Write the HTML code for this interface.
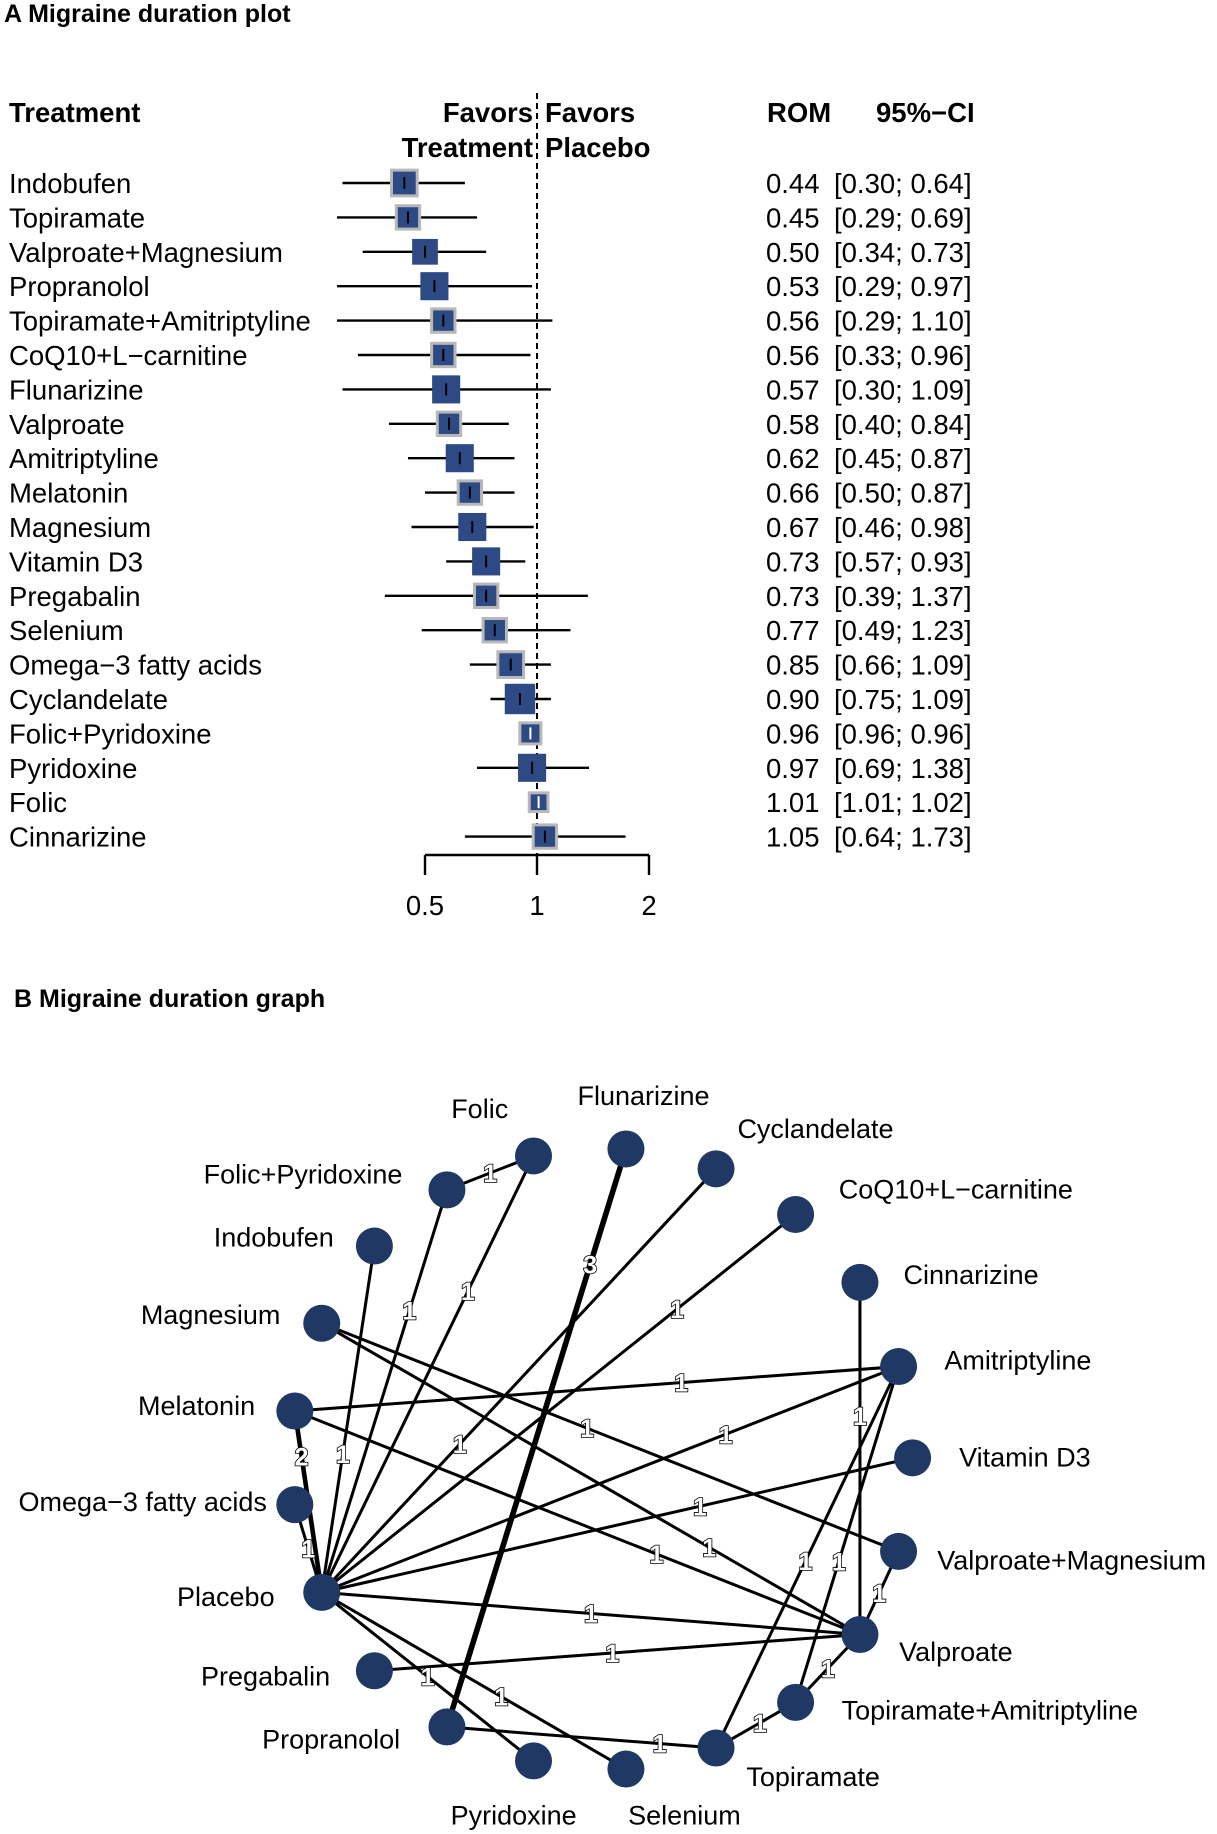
<!DOCTYPE html>
<html><head><meta charset="utf-8"><style>
body{margin:0;background:#fff}
svg{display:block;font-family:"Liberation Sans",Arial,sans-serif}
</style></head><body>
<svg id="chart" width="1217" height="1834" viewBox="0 0 1217 1834">
<text x="4" y="22" font-size="25" font-weight="bold">A Migraine duration plot</text>
<g id="forest"></g>
<text x="14" y="1007" font-size="25" font-weight="bold">B Migraine duration graph</text>
<g id="net"></g>
</svg>
<script>
const treatments=["Indobufen","Topiramate","Valproate+Magnesium","Propranolol","Topiramate+Amitriptyline","CoQ10+L\u2212carnitine","Flunarizine","Valproate","Amitriptyline","Melatonin","Magnesium","Vitamin D3","Pregabalin","Selenium","Omega\u22123 fatty acids","Cyclandelate","Folic+Pyridoxine","Pyridoxine","Folic","Cinnarizine"];
const rom=[0.44,0.45,0.50,0.53,0.56,0.56,0.57,0.58,0.62,0.66,0.67,0.73,0.73,0.77,0.85,0.90,0.96,0.97,1.01,1.05];
const lower=[0.30,0.29,0.34,0.29,0.29,0.33,0.30,0.40,0.45,0.50,0.46,0.57,0.39,0.49,0.66,0.75,0.96,0.69,1.01,0.64];
const upper=[0.64,0.69,0.73,0.97,1.10,0.96,1.09,0.84,0.87,0.87,0.98,0.93,1.37,1.23,1.09,1.09,0.96,1.38,1.02,1.73];
const weights=[22,20,22,24,20,20,24,20,24,20,24,24,20,20,22,26,18,24,16,20];
const xTicks=[0.5,1,2];
const NS="http://www.w3.org/2000/svg";
function mk(tag,attrs,parent,txt){const e=document.createElementNS(NS,tag);for(const k in attrs)e.setAttribute(k,attrs[k]);if(txt!==undefined)e.textContent=txt;parent.appendChild(e);return e;}
const xs=v=>537+Math.log2(v)*112;
const ys=i=>183+i*34.4;
const F=document.getElementById('forest');
const FS=27.5;
let h;
h=mk('text',{x:9,y:122,'font-size':FS,'font-weight':'bold'},F,'Treatment');
h=mk('text',{x:533,y:122,'font-size':FS,'font-weight':'bold','text-anchor':'end'},F,'Favors');
mk('text',{x:533,y:157,'font-size':FS,'font-weight':'bold','text-anchor':'end'},F,'Treatment');
h=mk('text',{x:545,y:122,'font-size':FS,'font-weight':'bold'},F,'Favors');
mk('text',{x:545,y:157,'font-size':FS,'font-weight':'bold'},F,'Placebo');
h=mk('text',{x:767,y:122,'font-size':FS,'font-weight':'bold'},F,'ROM');
h=mk('text',{x:876,y:122,'font-size':FS,'font-weight':'bold'},F,'95%\u2212CI');
h=mk('line',{x1:xs(1),x2:xs(1),y1:93,y2:868,stroke:'#000','stroke-width':2,'stroke-dasharray':'6,4'},F);
const noBorder=[2,3,6,8,10,11,15,17];
treatments.forEach((t,i)=>{
 const y=ys(i);
 let e=mk('text',{x:9,y:y+10,'font-size':FS},F,t);
 e=mk('line',{x1:xs(lower[i]),x2:xs(upper[i]),y1:y,y2:y,stroke:'#000','stroke-width':2.4},F);
 const s=weights[i]*1.17;
 e=mk('rect',{x:xs(rom[i])-s/2,y:y-s/2,width:s,height:s,fill:'#2e4a85',stroke:noBorder.includes(i)?'none':'#b8b8b8','stroke-width':3},F);
 mk('line',{x1:xs(rom[i]),x2:xs(rom[i]),y1:y-6,y2:y+6,stroke:(upper[i]-lower[i]<0.05)?'#fff':'#000','stroke-width':2},F);
 e=mk('text',{x:766,y:y+10,'font-size':FS},F,rom[i].toFixed(2));
 e=mk('text',{x:834,y:y+10,'font-size':FS},F,'['+lower[i].toFixed(2)+'; '+upper[i].toFixed(2)+']');
});
h=mk('line',{x1:xs(0.5),x2:xs(2),y1:855,y2:855,stroke:'#000','stroke-width':2.4},F);
xTicks.forEach(v=>{mk('line',{x1:xs(v),x2:xs(v),y1:855,y2:875,stroke:'#000','stroke-width':2.4},F);
 const e=mk('text',{x:xs(v),y:915,'font-size':FS,'text-anchor':'middle'},F,String(v));});

// network
const nodes=["Folic","Flunarizine","Cyclandelate","CoQ10+L\u2212carnitine","Cinnarizine","Amitriptyline","Vitamin D3","Valproate+Magnesium","Valproate","Topiramate+Amitriptyline","Topiramate","Selenium","Pyridoxine","Propranolol","Pregabalin","Placebo","Omega\u22123 fatty acids","Melatonin","Magnesium","Indobufen","Folic+Pyridoxine"];
const edgeFrom=["Folic","Folic","Folic+Pyridoxine","Indobufen","Flunarizine","Cyclandelate","CoQ10+L\u2212carnitine","Cinnarizine","Magnesium","Magnesium","Melatonin","Melatonin","Melatonin","Omega\u22123 fatty acids","Placebo","Placebo","Placebo","Pregabalin","Placebo","Placebo","Propranolol","Amitriptyline","Amitriptyline","Valproate+Magnesium","Valproate","Topiramate"];
const edgeTo=["Folic+Pyridoxine","Placebo","Placebo","Placebo","Propranolol","Placebo","Placebo","Valproate","Valproate+Magnesium","Valproate","Amitriptyline","Valproate","Placebo","Placebo","Amitriptyline","Vitamin D3","Valproate","Valproate","Pyridoxine","Selenium","Topiramate","Topiramate","Topiramate+Amitriptyline","Valproate","Topiramate+Amitriptyline","Topiramate+Amitriptyline"];
const edgeN=[1,1,1,1,3,1,1,1,1,1,1,1,2,1,1,1,1,1,1,1,1,1,1,1,1,1];
const labelT=[0.5,0.31,0.3,0.6,0.2,0.65,0.25,0.38,0.46,0.72,0.64,0.64,0.25,0.5,0.7,0.64,0.5,0.49,0.5,0.59,0.79,0.51,0.58,0.5,0.5,0.55];
const S=1.17;
const pos={"Folic":[456,988],"Flunarizine":[535,982],"Cyclandelate":[612,999],"CoQ10+L\u2212carnitine":[680,1038],"Cinnarizine":[735,1096],"Amitriptyline":[768,1168],"Vitamin D3":[780,1246],"Valproate+Magnesium":[768,1326],"Valproate":[735,1397],"Topiramate+Amitriptyline":[680,1455],"Topiramate":[612,1494],"Selenium":[535,1512],"Pyridoxine":[456,1505],"Propranolol":[382,1476],"Pregabalin":[320,1428],"Placebo":[275,1361],"Omega\u22123 fatty acids":[252,1286],"Melatonin":[252,1206],"Magnesium":[275,1131],"Indobufen":[320,1065],"Folic+Pyridoxine":[382,1017]};
const lab={"Folic":[410,947],"Flunarizine":[550,936],"Cyclandelate":[697,964],"CoQ10+L\u2212carnitine":[817,1016],"Cinnarizine":[830,1089],"Amitriptyline":[870,1162],"Vitamin D3":[876,1245],"Valproate+Magnesium":[916,1333],"Valproate":[817,1411],"Topiramate+Amitriptyline":[846,1461],"Topiramate":[695,1518],"Selenium":[585,1551],"Pyridoxine":[439,1551],"Propranolol":[283,1486],"Pregabalin":[227,1432],"Placebo":[193,1364],"Omega\u22123 fatty acids":[122,1283],"Melatonin":[168,1201],"Magnesium":[180,1123],"Indobufen":[234,1057],"Folic+Pyridoxine":[259,1003]};
const P=n=>[pos[n][0]*S,pos[n][1]*S];
const N=document.getElementById('net');
edgeFrom.forEach((a,i)=>{const p=P(a),q=P(edgeTo[i]);
 const e=mk('line',{x1:p[0],y1:p[1],x2:q[0],y2:q[1],stroke:'#000','stroke-width':edgeN[i]>1?2.6+edgeN[i]*1.0:3},N);
 
 });
edgeFrom.forEach((a,i)=>{const p=P(a),q=P(edgeTo[i]);const t=labelT[i];
 const e=mk('text',{x:p[0]+(q[0]-p[0])*t,y:p[1]+(q[1]-p[1])*t+9,'font-size':25,'font-weight':'bold','text-anchor':'middle',fill:'#fff',stroke:'#000','stroke-width':1.6,'paint-order':'stroke'},N,String(edgeN[i]));
 
 });
nodes.forEach(n=>{const p=P(n);
 const c=mk('circle',{cx:p[0],cy:p[1],r:18.5,fill:'#1f3864'},N);
 
 
 const t=mk('text',{x:lab[n][0]*S,y:lab[n][1]*S+10,'font-size':27,'text-anchor':'middle'},N,n);
 
 });
</script>
</body></html>
